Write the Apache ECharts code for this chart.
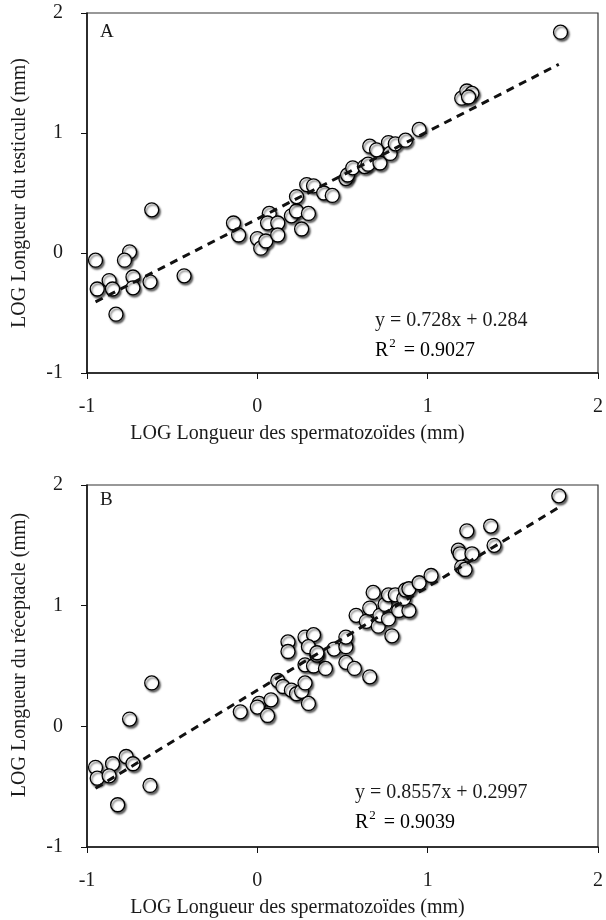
<!DOCTYPE html>
<html>
<head>
<meta charset="utf-8">
<script src="https://cdn.jsdelivr.net/npm/echarts@6/dist/echarts.min.js"></script>
<style>
  html, body { margin: 0; padding: 0; background: #fff; }
  #chart { width: 606px; height: 920px; }
</style>
</head>
<body>
<div id="chart"></div>
<script>
// panel A : testicule
var xA = [-0.95, -0.75, -0.78, -0.62, -0.87, -0.94, -0.85, -0.73, -0.73, -0.63, -0.83, -0.43,
          -0.14, -0.11, 0.00, 0.02, 0.05, 0.07, 0.06, 0.12, 0.12, 0.20, 0.23, 0.23, 0.26, 0.30,
          0.29, 0.33, 0.39, 0.44, 0.52, 0.53, 0.56, 0.63, 0.65, 0.72, 0.66, 0.70, 0.77, 0.78,
          0.81, 0.87, 0.95, 1.20, 1.23, 1.26, 1.24, 1.78];
var yA = [-0.06, 0.01, -0.06, 0.36, -0.23, -0.30, -0.30, -0.20, -0.29, -0.24, -0.51, -0.19,
          0.25, 0.15, 0.12, 0.04, 0.10, 0.33, 0.25, 0.25, 0.15, 0.31, 0.35, 0.47, 0.20, 0.33,
          0.57, 0.56, 0.50, 0.48, 0.62, 0.65, 0.71, 0.72, 0.74, 0.75, 0.89, 0.86, 0.92, 0.83,
          0.91, 0.94, 1.03, 1.29, 1.35, 1.33, 1.30, 1.84];

// panel B : réceptacle
var xB = [-0.95, -0.94, -0.85, -0.87, -0.77, -0.73, -0.75, -0.62, -0.63, -0.82,
          -0.10, 0.01, 0.00, 0.06, 0.08, 0.12, 0.15, 0.20, 0.23, 0.26, 0.28, 0.30, 0.28, 0.33,
          0.40, 0.35, 0.45, 0.52, 0.52, 0.57, 0.66, 0.18, 0.18, 0.28, 0.33, 0.52, 0.58, 0.64,
          0.71, 0.79, 0.68, 0.66, 0.72, 0.77, 0.75, 0.77, 0.81, 0.83, 0.89, 0.86, 0.87, 0.89,
          0.95, 1.02, 1.18, 1.19, 1.26, 1.20, 1.22, 1.23, 1.37, 1.39, 1.77, 0.30, 0.35];
var yB = [-0.34, -0.43, -0.31, -0.41, -0.25, -0.31, 0.06, 0.36, -0.49, -0.65,
          0.12, 0.19, 0.16, 0.09, 0.22, 0.38, 0.33, 0.30, 0.27, 0.29, 0.36, 0.19, 0.51, 0.50,
          0.48, 0.59, 0.64, 0.66, 0.53, 0.48, 0.41, 0.70, 0.62, 0.74, 0.76, 0.74, 0.92, 0.87,
          0.83, 0.75, 1.11, 0.98, 0.92, 0.89, 1.01, 1.09, 1.09, 0.96, 0.96, 1.06, 1.13, 1.14,
          1.19, 1.25, 1.46, 1.43, 1.43, 1.32, 1.30, 1.62, 1.66, 1.50, 1.91, 0.66, 0.61];

// trend lines (Excel)
var slopeA = 0.728, interA = 0.284;
var slopeB = 0.8557, interB = 0.2997;
var trendX = [-0.95, 1.77];

var font = '"Liberation Serif", "Times New Roman", serif';
var ink = '#1a1a1a';

function zip(xs, ys) {
    return xs.map(function (x, i) { return [x, ys[i]]; });
}
function trend(a, b) {
    return trendX.map(function (x) { return [x, a * x + b]; });
}

var axisBase = {
    type: 'value', min: -1, max: 2, interval: 1,
    axisLine: { show: true, onZero: false, lineStyle: { color: '#111', width: 1.5 } },
    axisTick: { show: true, inside: false, length: 6, lineStyle: { color: '#111', width: 1 } },
    axisLabel: { fontFamily: font, fontSize: 20, color: ink, margin: 24 },
    splitLine: { show: false }
};

function xAx(idx) {
    return Object.assign({}, axisBase, {
        gridIndex: idx,
        name: 'LOG Longueur des spermatozoïdes (mm)',
        nameLocation: 'middle', nameGap: 51,
        nameTextStyle: { fontFamily: font, fontSize: 20, color: ink, padding: [0, 90, 0, 0] }
    });
}
function yAx(idx, name, pad) {
    return Object.assign({}, axisBase, {
        gridIndex: idx,
        name: name,
        nameLocation: 'middle', nameGap: 57, nameRotate: 90,
        nameTextStyle: { fontFamily: font, fontSize: 20, color: ink, padding: pad }
    });
}

var dotStyle = {
    color: '#fff', opacity: 1, borderColor: '#000', borderWidth: 1.3,
    shadowBlur: 2, shadowColor: 'rgba(0,0,0,0.6)', shadowOffsetX: 1.5, shadowOffsetY: 2
};
var dashStyle = { color: '#111', width: 3, type: [8, 6] };

function eqText(left, top, eq, r2) {
    return [
        { type: 'text', left: left, top: top,
          style: { text: eq, font: '20px ' + font, fill: ink } },
        { type: 'text', left: left, top: top + 26,
          style: {
              text: '{n|R}{s|2}{n| = ' + r2 + '}',
              rich: {
                  n: { fontFamily: font, fontSize: 20, color: ink, lineHeight: 24, verticalAlign: 'bottom' },
                  s: { fontFamily: font, fontSize: 13, color: ink, lineHeight: 24, verticalAlign: 'top', padding: [0, 3, 8, 1] }
              }
          } }
    ];
}

var chart = echarts.init(document.getElementById('chart'));
chart.setOption({
    animation: false,
    grid: [
        { left: 87, top: 13, width: 518, height: 360, show: true, borderColor: '#333', borderWidth: 1.2, backgroundColor: '#fff' },
        { left: 87, top: 485, width: 518, height: 362, show: true, borderColor: '#333', borderWidth: 1.2, backgroundColor: '#fff' }
    ],
    xAxis: [xAx(0), xAx(1)],
    yAxis: [
        yAx(0, 'LOG Longueur du testicule (mm)', [0, 0, 0, 0]),
        yAx(1, 'LOG Longueur du réceptacle (mm)', [0, 0, 0, 22])
    ],
    series: [
        { type: 'scatter', xAxisIndex: 0, yAxisIndex: 0, symbol: 'circle', symbolSize: 14,
          itemStyle: dotStyle, data: zip(xA, yA), z: 2 },
        { type: 'line', xAxisIndex: 0, yAxisIndex: 0, symbol: 'none', silent: true,
          lineStyle: dashStyle, data: trend(slopeA, interA), z: 3 },
        { type: 'scatter', xAxisIndex: 1, yAxisIndex: 1, symbol: 'circle', symbolSize: 14,
          itemStyle: dotStyle, data: zip(xB, yB), z: 2 },
        { type: 'line', xAxisIndex: 1, yAxisIndex: 1, symbol: 'none', silent: true,
          lineStyle: dashStyle, data: trend(slopeB, interB), z: 3 }
    ],
    graphic: [
        { type: 'text', left: 100, top: 23, style: { text: 'A', font: '19px ' + font, fill: ink } },
        { type: 'text', left: 100, top: 491, style: { text: 'B', font: '19px ' + font, fill: ink } }
    ].concat(eqText(375, 311, 'y = 0.728x + 0.284', '0.9027'))
     .concat(eqText(355, 783, 'y = 0.8557x + 0.2997', '0.9039'))
});
</script>
</body>
</html>
